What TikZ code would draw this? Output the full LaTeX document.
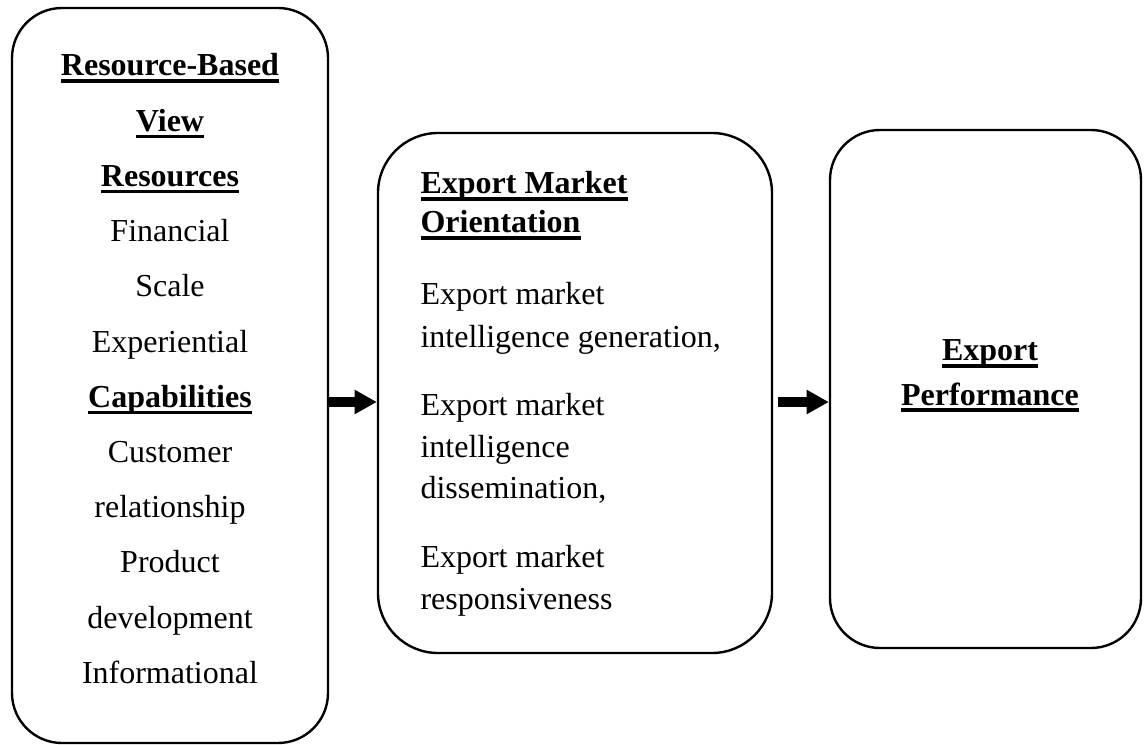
\documentclass[tikz,border=0pt]{standalone}
\usepackage{fontspec}
\setmainfont{Liberation Serif}
\usetikzlibrary{arrows.meta,fit}

% bold heading with a heavy underline
\newcommand{\hdr}[1]{\textbf{\setbox0\hbox{#1}\rlap{\rule[-2.6pt]{\wd0}{1.3pt}}\box0}}

\tikzset{
  box/.style={draw, line width=0.9pt, inner sep=0pt},
  flow/.style={line width=3.4pt, -{Triangle[length=8.3pt,width=8.6pt]}},
  txt/.style={font=\fontsize{12}{14}\selectfont, inner sep=0pt}
}

\begin{document}
\begin{tikzpicture}[x=0.375pt, y=-0.375pt]
                \useasboundingbox (0,0) rectangle (1144,745);
                % Boxes
                \node[box, rounded corners=18.75pt, fit={(12,8) (328,743)}] (lbox) {};
                \node[box, rounded corners=22.5pt, fit={(378,133) (772,653)}] (mbox) {};
                \node[box, rounded corners=18.75pt, fit={(830,130) (1141,648)}] (rbox) {};

                % Resource-based view
                \foreach \txt [count=\i] in {\hdr{Resource-Based}, \hdr{View}, \hdr{Resources},
                    Financial, Scale, Experiential, \hdr{Capabilities}, Customer,
                    relationship, Product, development, Informational}
                  \node[txt, anchor=base] (l\i) at (170, {76+55.2*(\i-1)}) {\txt};

                % Export market orientation
                \node[txt, anchor=base west] (m1) at (420, 194) {\hdr{Export Market}};
                \node[txt, anchor=base west] (m2) at (420, 233) {\hdr{Orientation}};
                \node[txt, anchor=base west] (m3) at (420, 305) {Export market};
                \node[txt, anchor=base west] (m4) at (420, 347) {intelligence generation,};
                \node[txt, anchor=base west] (m5) at (420, 415) {Export market};
                \node[txt, anchor=base west] (m6) at (420, 457) {intelligence};
                \node[txt, anchor=base west] (m7) at (420, 499) {dissemination,};
                \node[txt, anchor=base west] (m8) at (420, 567) {Export market};
                \node[txt, anchor=base west] (m9) at (420, 609) {responsiveness};

                % Export performance
                \node[txt, anchor=base] (r1) at (990, 361) {\hdr{Export}};
                \node[txt, anchor=base] (r2) at (990, 405) {\hdr{Performance}};

                % Arrows
                \coordinate (mid) at (0, 402);
                \draw[flow] (lbox.east |- mid) -- (mbox.west |- mid);
                \draw[flow, shorten <=1.9pt] (mbox.east |- mid) -- (rbox.west |- mid);
            \end{tikzpicture}
\end{document}
